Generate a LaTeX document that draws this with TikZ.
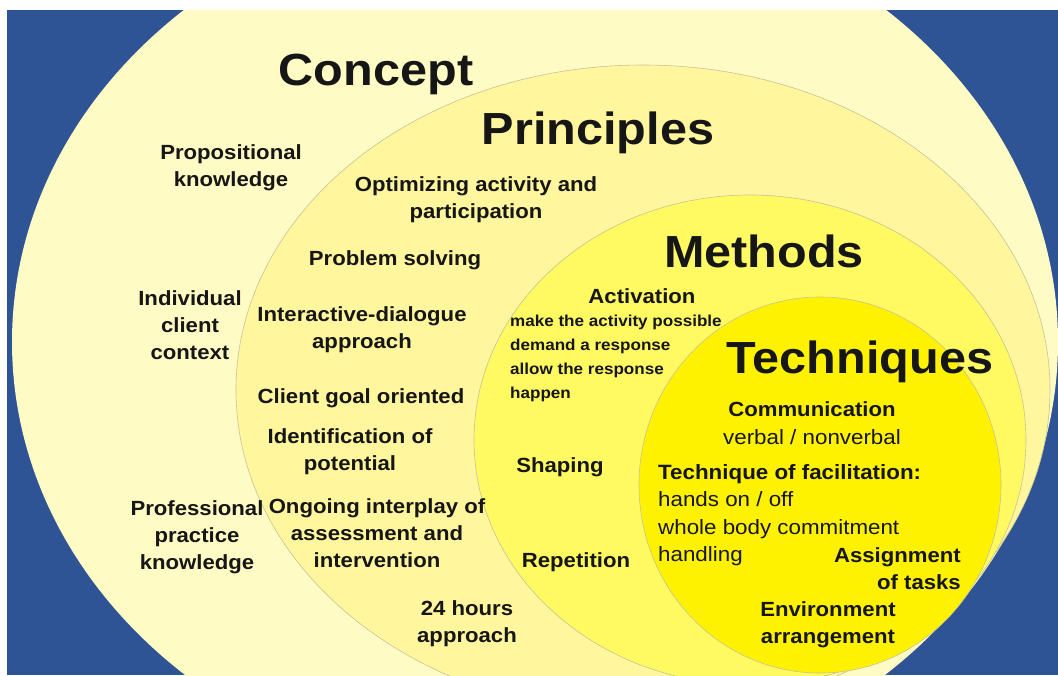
\documentclass[tikz,border=0pt]{standalone}
\usepackage{fontspec}
\setmainfont[FakeStretch=1.08]{Liberation Sans}
\usepackage{xcolor}

\definecolor{bgblue}{RGB}{47,84,150}
\definecolor{conceptfill}{RGB}{255,251,196}
\definecolor{princfill}{RGB}{255,246,158}
\definecolor{methfill}{RGB}{255,250,98}
\definecolor{techfill}{RGB}{255,242,0}
\definecolor{rimline}{RGB}{200,194,150}
\definecolor{ink}{RGB}{22,22,22}

\begin{document}
\begin{tikzpicture}[x=1pt,y=-1pt,
    area/.style={draw=rimline,line width=0.6pt},
    title/.style={font=\fontsize{45}{50}\selectfont\bfseries,text=ink,inner sep=0pt},
    item/.style={font=\fontsize{20.5}{27}\selectfont\bfseries,text=ink,align=center,inner sep=0pt},
    small/.style={font=\fontsize{15.8}{24}\selectfont\bfseries,text=ink,align=left,inner sep=0pt},
    plain/.style={font=\fontsize{20.7}{27.5}\selectfont,text=ink,align=left,inner sep=0pt}]
    \useasboundingbox (0,0) rectangle (1058,675);
    % blue panel
    \fill[bgblue] (7,10) rectangle (1058,675);

    % nested areas
    \begin{scope}
      \clip (7,10) rectangle (1058,675);
      \fill[conceptfill] (535,342) ellipse [x radius=523,y radius=448];
      \filldraw[area,fill=princfill] (643,390) ellipse [x radius=407,y radius=325];
      \filldraw[area,fill=methfill] (750,440) ellipse [x radius=276,y radius=245];
      \filldraw[area,fill=techfill] (820,485) ellipse [x radius=181,y radius=188];
    \end{scope}

    % headings
    \node[title] (concept) at (376,74) {Concept};
    \node[title] (principles) at (598,133) {Principles};
    \node[title] (methods) at (764,251) {Methods};
    \node[title] (techniques) at (860,362) {Techniques};

    % Concept
    \node[item] (propos) at (231,168) {Propositional\\knowledge};
    \node[item] (client) at (190,325) {Individual\\client\\context};
    \node[item] (profess) at (197,537) {Professional\\practice\\knowledge};

    % Principles
    \node[item] (optim) at (476,200) {Optimizing activity and\\participation};
    \node[item] (problem) at (395,260) {Problem solving};
    \node[item] (dialogue) at (362,330) {Interactive-dialogue\\approach};
    \node[item] (goal) at (361,398) {Client goal oriented};
    \node[item] (potential) at (350,452) {Identification of\\potential};
    \node[item] (interplay) at (377,533) {Ongoing interplay of\\assessment and\\intervention};
    \node[item] (hours) at (467,624) {24 hours\\approach};

    % Methods
    \node[item] (activation) at (642,296) {Activation};
    \node[small,anchor=west] (actlist) at (510,358) {make the activity possible\\demand a response\\allow the response\\happen};
    \node[item] (shaping) at (560,467) {Shaping};
    \node[item] (repeat) at (576,562) {Repetition};

    % Techniques
    \node[item] (comm) at (812,409) {Communication};
    \node[plain,align=center] (verbal) at (812,437) {verbal / nonverbal};
    \node[plain,anchor=west] (facil) at (658,515) {\bfseries Technique of facilitation:\\hands on / off\\whole body commitment\\handling};
    \node[item,align=right,anchor=east] (tasks) at (961,569) {Assignment\\of tasks};
    \node[item] (environ) at (828,625) {Environment\\arrangement};
\end{tikzpicture}
\end{document}
